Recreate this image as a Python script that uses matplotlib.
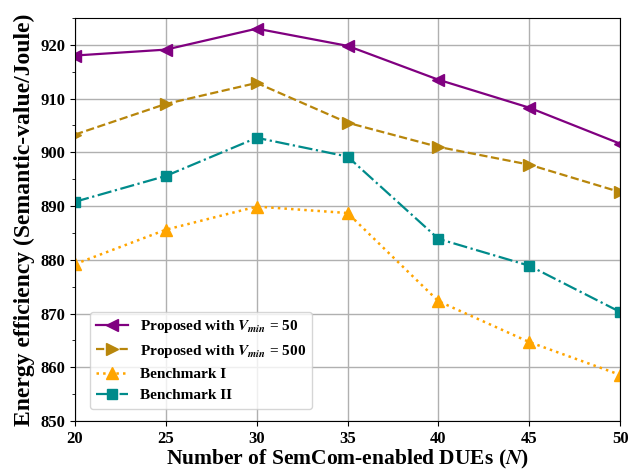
import matplotlib
matplotlib.use('Agg')
import matplotlib.pyplot as plt
from matplotlib.ticker import MultipleLocator

# Data
n_dues = [20, 25, 30, 35, 40, 45, 50]
prop_50 = [918.0, 919.1, 923.0, 919.8, 913.5, 908.3, 901.6]
prop_500 = [903.3, 909.0, 912.9, 905.5, 901.0, 897.7, 892.6]
bench_1 = [879.2, 885.6, 889.9, 888.7, 872.3, 864.7, 858.6]
bench_2 = [890.8, 895.6, 902.7, 899.2, 883.9, 878.9, 870.3]

plt.rcParams['font.family'] = ['Liberation Serif', 'DejaVu Serif']
plt.rcParams['font.weight'] = 'bold'
plt.rcParams['mathtext.fontset'] = 'stix'

fig, ax = plt.subplots(figsize=(6.36, 4.71), dpi=100)

ax.plot(n_dues, prop_50, color='purple', linestyle='-', marker='<', markersize=8,
        linewidth=1.6, label=r'Proposed with $V_{min}$ = 50')
ax.plot(n_dues, prop_500, color='darkgoldenrod', linestyle='--', marker='>', markersize=8,
        linewidth=1.6, label=r'Proposed with $V_{min}$ = 500')
ax.plot(n_dues, bench_1, color='orange', linestyle=':', marker='^', markersize=8,
        linewidth=1.8, label='Benchmark I')
ax.plot(n_dues, bench_2, color='darkcyan', linestyle='-.', marker='s', markersize=7,
        linewidth=1.6, label='Benchmark II')

ax.set_xlim(20, 50)
ax.set_ylim(850, 925)
ax.set_xticks(n_dues)
ax.yaxis.set_major_locator(MultipleLocator(10))
ax.yaxis.set_minor_locator(MultipleLocator(5))
ax.tick_params(labelsize=12)
ax.grid(True, color='#b0b0b0', linewidth=1)

ax.set_xlabel(r'Number of SemCom-enabled DUEs ($N$)', fontsize=15.5, fontweight='bold', labelpad=1)
ax.set_ylabel('Energy efficiency (Semantic-value/Joule)', fontsize=17, fontweight='bold', labelpad=4)

ax.legend(loc='lower left', bbox_to_anchor=(0.013, 0.012), fontsize=11, handlelength=2.1)

fig.subplots_adjust(left=0.118, right=0.975, top=0.962, bottom=0.106)
fig.savefig('out.png', dpi=100)
